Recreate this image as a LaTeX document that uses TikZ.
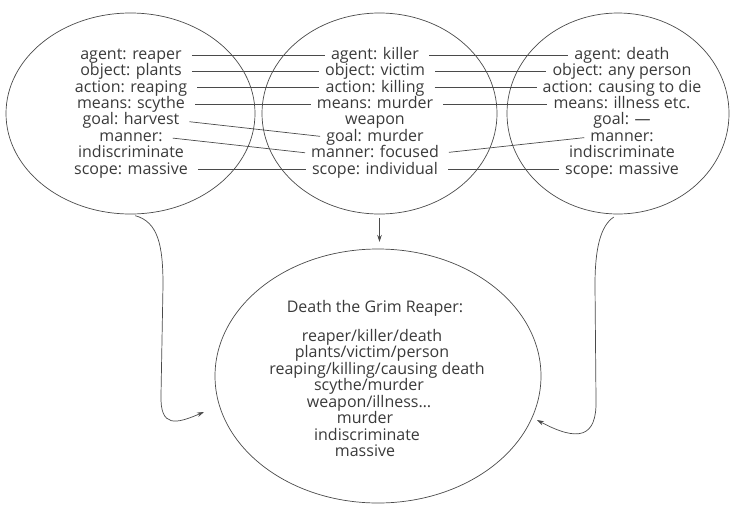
\documentclass[tikz,border=0pt]{standalone}
\usepackage{fontspec}
\setmainfont{Open Sans}
\usetikzlibrary{shapes.geometric,arrows.meta}
\definecolor{ink}{HTML}{3A3A3A}
\definecolor{linecol}{HTML}{4A4A4A}
\begin{document}
\begin{tikzpicture}[x=1pt,y=-1pt,
  ell/.style={draw=linecol,line width=0.7pt,ellipse,inner sep=0pt},
  txt/.style={inner sep=0pt,text=ink,font=\fontsize{16}{16.4}\selectfont,text height=12pt,text depth=3.4pt},
  link/.style={draw=linecol,line width=0.7pt,shorten <=10pt,shorten >=6pt},
  arr/.style={draw=linecol,line width=0.7pt,-{Stealth[length=7pt,width=4.5pt]}}
]
\useasboundingbox (0,0) rectangle (731,504);
% ellipses
\node[ell,minimum width=249pt,minimum height=201pt] (L) at (130.5,113.5) {};
\node[ell,minimum width=235pt,minimum height=201pt] (M) at (379.5,113.5) {};
\node[ell,minimum width=222pt,minimum height=201pt] (R) at (618,113.5) {};
\node[ell,minimum width=326pt,minimum height=254pt] (B) at (378,376) {};
% left texts
\node[txt] (la) at (131,55)    {agent: reaper};
\node[txt] (lb) at (131,71.4)  {object: plants};
\node[txt] (lc) at (131,87.8)  {action: reaping};
\node[txt] (ld) at (131,104.2) {means: scythe};
\node[txt] (le) at (131,120.6) {goal: harvest};
\node[txt] (lf) at (131,137)   {manner:};
\node[txt] (lg) at (131,153.4) {indiscriminate};
\node[txt] (lh) at (131,169.8) {scope: massive};
% middle texts
\node[txt] (ma) at (375,55)    {agent: killer};
\node[txt] (mb) at (375,71.4)  {object: victim};
\node[txt] (mc) at (375,87.8)  {action: killing};
\node[txt] (md) at (375,104.2) {means: murder};
\node[txt] (me) at (375,120.6) {weapon};
\node[txt] (mf) at (375,137)   {goal: murder};
\node[txt] (mg) at (375,153.4) {manner: focused};
\node[txt] (mh) at (375,169.8) {scope: individual};
% right texts
\node[txt] (ra) at (622,55)    {agent: death};
\node[txt] (rb) at (622,71.4)  {object: any person};
\node[txt] (rc) at (622,87.8)  {action: causing to die};
\node[txt] (rd) at (622,104.2) {means: illness etc.};
\node[txt] (re) at (622,120.6) {goal: ---};
\node[txt] (rf) at (622,137)   {manner:};
\node[txt] (rg) at (622,153.4) {indiscriminate};
\node[txt] (rh) at (622,169.8) {scope: massive};
% bottom texts
\node[txt] (bt) at (375,308)   {Death the Grim Reaper:};
\node[txt] (b1) at (372,337)   {reaper/killer/death};
\node[txt] (b2) at (372,353.5) {plants/victim/person};
\node[txt] (b3) at (377,370)   {reaping/killing/causing death};
\node[txt] (b4) at (369,386.5) {scythe/murder};
\node[txt] (b5) at (369,403)   {weapon/illness\dots};
\node[txt] (b6) at (365,419.5) {murder};
\node[txt] (b7) at (367,436)   {indiscriminate};
\node[txt] (b8) at (365,452.5) {massive};
% connectors left-middle
\draw[link] (la.east) -- (ma.west);
\draw[link] (lb.east) -- (mb.west);
\draw[link] (lc.east) -- (mc.west);
\draw[link] (ld.east) -- (md.west);
\draw[link] (le.east) -- (mf.west);
\draw[link] (lf.east) -- (mg.west);
\draw[link] (lh.east) -- (mh.west);
% connectors middle-right
\draw[link] (ma.east) -- (ra.west);
\draw[link] (mb.east) -- (rb.west);
\draw[link] (mc.east) -- (rc.west);
\draw[link] (md.east) -- (rd.west);
\draw[link] (mg.east) -- (rf.west);
\draw[link] (mh.east) -- (rh.west);
% arrows to bottom ellipse
\coordinate (mt) at (379.5,242);
\coordinate (lt) at (204,412);
\coordinate (rt) at (537,420);
\draw[arr,shorten <=4pt] (M.south) -- (mt);
\draw[arr,shorten <=5pt] (L.south) .. controls (158,222) and (163,245) .. (163,285)
  -- (161,395) .. controls (160,428) and (176,424) .. (lt);
\draw[arr,shorten <=5pt] (R.south) .. controls (600,226) and (595,250) .. (595,285)
  -- (596,400) .. controls (597,438) and (578,442) .. (rt);
\end{tikzpicture}
\end{document}
